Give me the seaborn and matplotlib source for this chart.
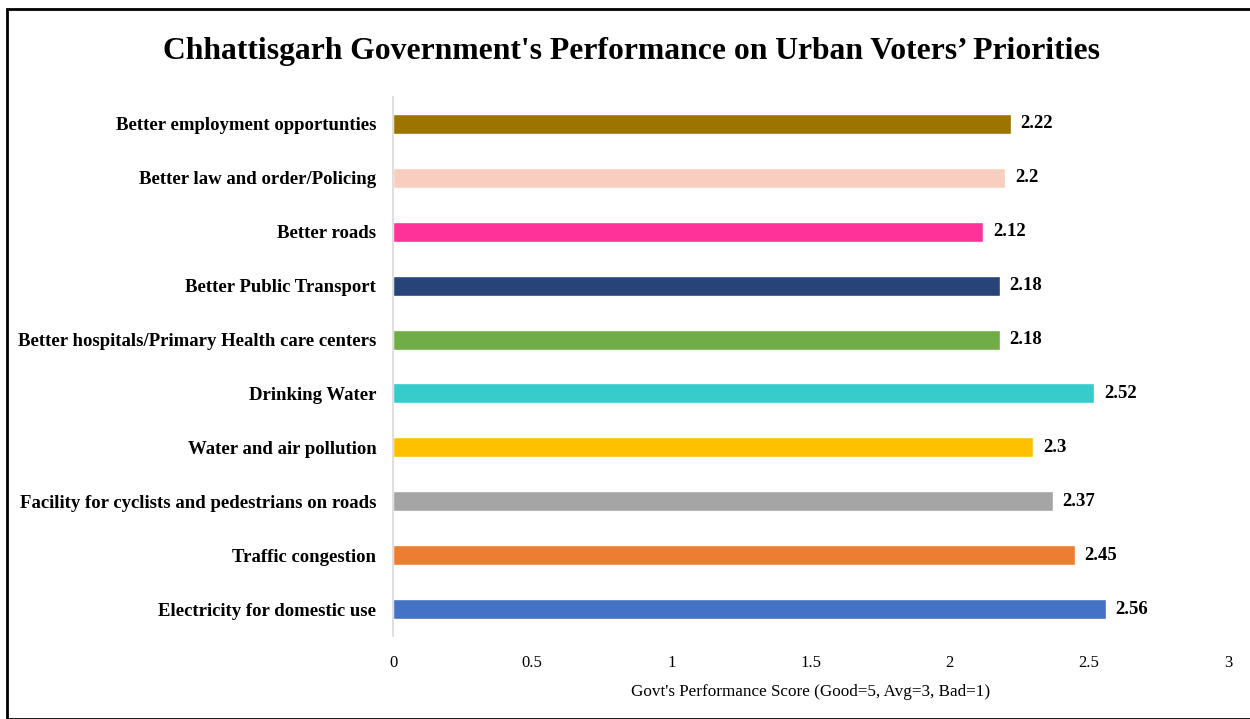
import matplotlib
matplotlib.use("Agg")
import matplotlib.pyplot as plt
import seaborn as sns
import pandas as pd
from matplotlib.patches import Rectangle

categories = [
    "Better employment opportunties",
    "Better law and order/Policing",
    "Better roads",
    "Better Public Transport",
    "Better hospitals/Primary Health care centers",
    "Drinking Water",
    "Water and air pollution",
    "Facility for cyclists and pedestrians on roads",
    "Traffic congestion",
    "Electricity for domestic use",
]
values = [2.22, 2.2, 2.12, 2.18, 2.18, 2.52, 2.3, 2.37, 2.45, 2.56]
colors = ["#9E7400", "#F8CFBE", "#FF3399", "#264478", "#70AD47",
          "#36CCCC", "#FFC000", "#A5A5A5", "#ED7D31", "#4472C4"]
x_ticks = [0, 0.5, 1, 1.5, 2, 2.5, 3]
x_tick_labels = ["0", "0.5", "1", "1.5", "2", "2.5", "3"]
title = "Chhattisgarh Government's Performance on Urban Voters\u2019 Priorities"
xlabel = "Govt's Performance Score (Good=5, Avg=3, Bad=1)"

sns.set_theme(style="white")
plt.rcParams["font.family"] = ["Liberation Serif", "DejaVu Serif"]
plt.rcParams["text.color"] = "black"
plt.rcParams["xtick.color"] = "black"
plt.rcParams["ytick.color"] = "black"
plt.rcParams["axes.labelcolor"] = "black"

df = pd.DataFrame({"cat": categories, "val": values})

fig = plt.figure(figsize=(12.5, 7.19), dpi=100)
ax = fig.add_axes([393/1250, 1-636/719, (1228-393)/1250, (636-97)/719])
sns.barplot(data=df, x="val", y="cat", hue="cat", palette=colors, order=categories,
            hue_order=categories, dodge=False, legend=False, width=0.37, ax=ax,
            saturation=1)
ax.set_xlim(0, 3)
ax.set_ylim(9.5, -0.5)
ax.set_xticks(x_ticks)
ax.set_xticklabels(x_tick_labels, fontsize=12)
ax.tick_params(axis="x", length=0, pad=14)
ax.tick_params(axis="y", length=0, pad=12)
for lbl in ax.get_yticklabels():
    lbl.set_fontweight("bold")
    lbl.set_fontsize(13.5)
ax.set_ylabel("")
ax.set_xlabel(xlabel, fontsize=12.3, labelpad=9)
for s in ["top", "right", "bottom"]:
    ax.spines[s].set_visible(False)
ax.spines["left"].set_color("#D9D9D9")
ax.spines["left"].set_linewidth(1.2)

for i, v in enumerate(values):
    ax.text(v + 0.035, i, f"{v:g}", va="center", ha="left", fontsize=13.5, fontweight="bold")

fig.text(0.505, 1-52/719, title, ha="center", va="center", fontsize=22.8, fontweight="bold")
fig.patches.append(Rectangle((7/1250, 0), 1.2, 1-9/719, transform=fig.transFigure,
                             fill=False, edgecolor="black", linewidth=2))
fig.savefig("out.png", dpi=100)
